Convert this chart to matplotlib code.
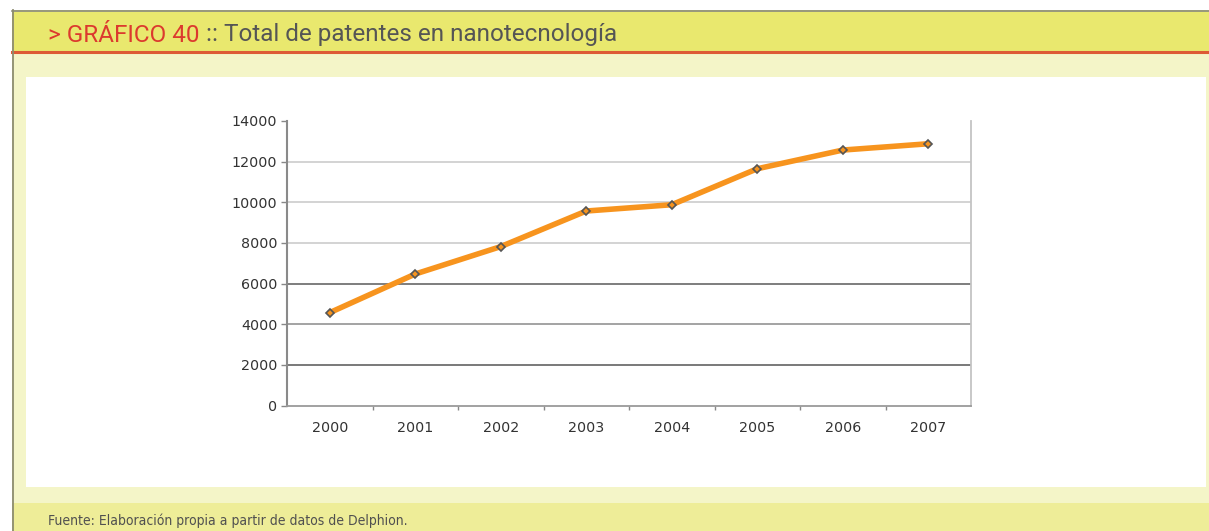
import matplotlib
matplotlib.use("Agg")
import matplotlib.pyplot as plt
from matplotlib.patches import Rectangle
from matplotlib.lines import Line2D

# Datos: total de patentes en nanotecnología por año
anios = ["2000", "2001", "2002", "2003", "2004", "2005", "2006", "2007"]
patentes = [4570, 6470, 7820, 9570, 9880, 11650, 12570, 12880]
marcas_y = [0, 2000, 4000, 6000, 8000, 10000, 12000, 14000]

W, H = 1209, 531
fig = plt.figure(figsize=(W / 100, H / 100), dpi=100)
fig.patch.set_facecolor("white")


def caja(x0, y0, x1, y1, color):
    # rectángulo en píxeles, y medida desde arriba
    fig.add_artist(Rectangle((x0 / W, 1 - y1 / H), (x1 - x0) / W, (y1 - y0) / H,
                             transform=fig.transFigure, facecolor=color,
                             edgecolor="none", zorder=0))


def linea(x0, y0, x1, y1, color, lw):
    fig.add_artist(Line2D([x0 / W, x1 / W], [1 - y0 / H, 1 - y1 / H],
                          transform=fig.transFigure, color=color, lw=lw, zorder=1))


# marco de la ficha
caja(12, 10, W, 51, "#e9e86e")
caja(12, 52, W, 503, "#f4f5c8")
caja(26, 77, 1206, 487, "#ffffff")
caja(12, 503, W, H, "#eeed98")
linea(12, 10.5, W, 10.5, "#8a8a80", 1.2)
linea(12, 52, W, 52, "#dd5a35", 2.2)
linea(12.5, 10, 12.5, H, "#8c8c70", 1.3)

# título
estilo_titulo = dict(fontsize=17.5, family="Roboto", fontweight="normal", va="center")
t1 = fig.text(48 / W, 1 - 35 / H, "> GRÁFICO 40", color="#dc3a2e", **estilo_titulo)
fig.canvas.draw()
bb = t1.get_window_extent()
fig.text(bb.x1 / W, 1 - 35 / H, " :: Total de patentes en nanotecnología",
         color="#555555", **estilo_titulo)

# fuente
fig.text(48 / W, 1 - 521 / H, "Fuente: Elaboración propia a partir de datos de Delphion.",
         color="#505050", fontsize=10, family="DejaVu Sans",
         fontstretch="condensed", va="center")

# gráfico
ax = fig.add_axes([287 / W, 1 - 405.5 / H, 684 / W, 284.5 / H])
ax.set_facecolor("none")
x = list(range(len(anios)))

colores_rejilla = ["#555555", "#8a8a8a", "#5a5a5a", "#c8c8c8", "#c8c8c8", "#c8c8c8"]
for v, c in zip(marcas_y[1:-1], colores_rejilla):
    ax.axhline(v, color=c, lw=1.1, zorder=1)

ax.plot(x, patentes, color="#f7941e", lw=4, zorder=3, solid_capstyle="round")
ax.plot(x, patentes, ls="none", marker="D", ms=4.5, mfc="#f7941e",
        mec="#555555", mew=1.2, zorder=4)

ax.set_xlim(-0.5, len(anios) - 0.5)
ax.set_ylim(0, 14000)
ax.set_yticks(marcas_y)
ax.set_yticklabels([str(v) for v in marcas_y])
ax.set_xticks(x)
ax.set_xticklabels(anios)
ax.set_xticks([i + 0.5 for i in x[:-1]], minor=True)

ax.tick_params(axis="y", length=4, width=1, color="#888888", pad=3,
               labelsize=10.3, labelcolor="#333333")
ax.tick_params(axis="x", which="major", length=0, pad=11,
               labelsize=10.3, labelcolor="#333333")
ax.tick_params(axis="x", which="minor", length=3, width=1, color="#888888")

ax.spines["top"].set_visible(False)
ax.spines["left"].set_color("#8a8a8a")
ax.spines["left"].set_linewidth(1.5)
ax.spines["bottom"].set_color("#9a9a9a")
ax.spines["bottom"].set_linewidth(1.3)
ax.spines["right"].set_color("#c4c4c4")
ax.spines["right"].set_linewidth(1.3)

fig.savefig("out.png", dpi=100)
